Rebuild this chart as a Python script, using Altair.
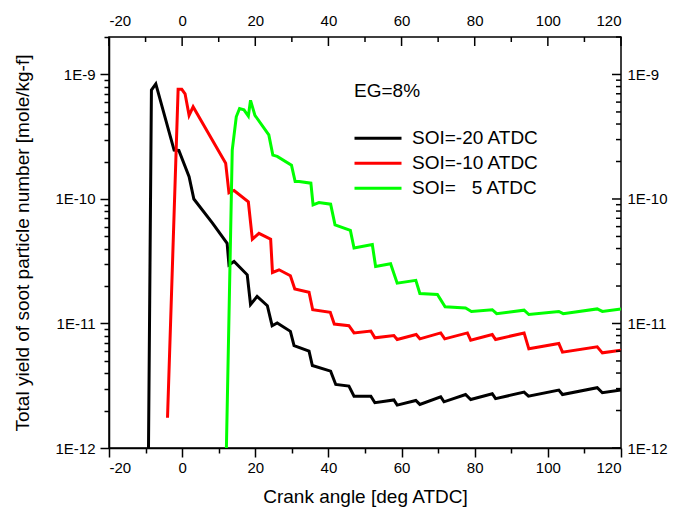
import altair as alt
import pandas as pd

# ---- data ----
black_x = [-9.2, -8.4, -7.2, -2.2, -0.9, 1.9, 3.2, 8.3, 12.3, 12.8, 14.2, 17.8, 18.7, 20.5, 23.3, 24.6,
           26.0, 29.6, 30.6, 34.7, 35.6, 40.6, 42.0, 45.6, 47.0, 51.6, 52.7, 57.9, 58.8, 63.9, 65.0,
           70.7, 71.6, 77.5, 78.9, 84.8, 85.7, 93.5, 94.7, 103.0, 104.0, 113.5, 114.9, 120.0]
black_y = [1.0e-12, 7.5e-10, 8.4e-10, 2.47e-10, 2.45e-10, 1.51e-10, 1.0e-10, 6.4e-11, 4.4e-11, 2.96e-11,
           3.15e-11, 2.46e-11, 1.42e-11, 1.65e-11, 1.39e-11, 9.6e-12, 1.01e-11, 8.65e-12, 6.65e-12,
           6.0e-12, 4.6e-12, 4.14e-12, 3.24e-12, 3.14e-12, 2.61e-12, 2.61e-12, 2.31e-12, 2.43e-12,
           2.21e-12, 2.41e-12, 2.24e-12, 2.58e-12, 2.35e-12, 2.69e-12, 2.45e-12, 2.73e-12, 2.49e-12,
           2.81e-12, 2.61e-12, 2.92e-12, 2.69e-12, 3.05e-12, 2.78e-12, 2.92e-12]

red_x = [-4.0, -1.1, -0.1, 0.8, 1.9, 3.0, 11.9, 12.8, 14.2, 18.1, 19.2, 21.0, 24.2, 24.7, 26.5, 29.6,
         30.8, 34.7, 35.7, 40.5, 41.6, 45.6, 47.0, 51.6, 52.7, 57.9, 58.8, 64.0, 65.0, 70.7, 71.8,
         78.0, 78.9, 84.8, 85.7, 93.5, 94.8, 103.0, 104.0, 113.5, 114.9, 120.0]
red_y = [1.75e-12, 7.6e-10, 7.6e-10, 7.0e-10, 4.7e-10, 5.5e-10, 1.94e-10, 1.12e-10, 1.17e-10, 9.5e-11,
         4.76e-11, 5.3e-11, 4.76e-11, 2.57e-11, 2.7e-11, 2.42e-11, 1.89e-11, 1.78e-11, 1.29e-11,
         1.23e-11, 9.9e-12, 9.6e-12, 8.4e-12, 8.7e-12, 7.67e-12, 8.0e-12, 7.43e-12, 8.15e-12,
         7.53e-12, 8.4e-12, 7.53e-12, 8.4e-12, 7.34e-12, 8.15e-12, 7.43e-12, 8.4e-12, 6.26e-12,
         6.9e-12, 5.88e-12, 6.49e-12, 5.81e-12, 6.1e-12]

green_x = [12.1, 13.7, 14.8, 15.7, 16.9, 18.1, 18.7, 19.9, 23.7, 24.8, 26.0, 29.9, 30.9, 32.0, 35.2,
           35.8, 37.4, 40.6, 41.8, 46.0, 47.0, 52.0, 52.9, 57.0, 58.8, 63.9, 65.0, 69.8, 71.9, 77.5,
           79.1, 84.8, 86.0, 93.5, 94.8, 103.0, 104.2, 113.5, 114.9, 120.0]
green_y = [1.0e-12, 2.47e-10, 4.57e-10, 5.33e-10, 5.2e-10, 4.63e-10, 6.2e-10, 4.7e-10, 3.27e-10,
           2.25e-10, 2.2e-10, 1.87e-10, 1.38e-10, 1.38e-10, 1.34e-10, 8.97e-11, 9.35e-11, 9.08e-11,
           6.2e-11, 5.6e-11, 4.04e-11, 4.3e-11, 2.87e-11, 3.02e-11, 2.11e-11, 2.22e-11, 1.74e-11,
           1.71e-11, 1.36e-11, 1.33e-11, 1.25e-11, 1.29e-11, 1.2e-11, 1.28e-11, 1.18e-11, 1.25e-11,
           1.2e-11, 1.31e-11, 1.25e-11, 1.31e-11]

series_names = ["SOI=-20 ATDC", "SOI=-10 ATDC", "SOI=\u00a0\u00a0\u00a05 ATDC"]
series_colors = ["#000000", "#ff0000", "#00ff00"]

x_major = [-20, 0, 20, 40, 60, 80, 100, 120]
x_minor = [-10, 10, 30, 50, 70, 90, 110]
y_major = [1e-12, 1e-11, 1e-10, 1e-9]
y_minor = [m * d for d in [1e-12, 1e-11, 1e-10] for m in range(2, 10)] + [2e-9]

annot_x = [47]
annot_y = [7.3e-10]
annot_t = ["EG=8%"]

# ---- tables ----
rows = []
for name, xs_, ys_ in zip(series_names, [black_x, red_x, green_x], [black_y, red_y, green_y]):
    for i, (a, b) in enumerate(zip(xs_, ys_)):
        rows.append({"series": name, "x": a, "y": b, "i": i})
df = pd.DataFrame(rows)

W, H = 512, 411
FONT = "Liberation Sans"
LFS = 15
xscale = alt.Scale(domain=[-20, 120], nice=False, zero=False)
yscale = alt.Scale(type="log", domain=[1e-12, 2e-9], nice=False)

minor_y_test = "abs(log(datum.value)/LN10 - round(log(datum.value)/LN10)) > 0.001"
minor_x_test = "datum.value % 20 != 0"

bottom_axis = alt.Axis(orient="bottom", values=x_major + x_minor,
                       labelExpr="datum.value % 20 == 0 ? '' + datum.value : ''",
                       tickSize={"condition": {"test": minor_x_test, "value": 5}, "value": 9},
                       labelPadding=3, labelFontSize=LFS, labelFont=FONT,
                       title="Crank angle [deg ATDC]", titlePadding=12,
                       titleFontSize=19, titleFont=FONT)
left_axis = alt.Axis(orient="left", values=y_major + y_minor,
                     labelExpr=f"{minor_y_test} ? '' : '1E' + round(log(datum.value)/LN10)",
                     tickSize={"condition": {"test": minor_y_test, "value": 5}, "value": 9},
                     labelPadding=5, labelFontSize=LFS, labelFont=FONT,
                     title="Total yield of soot particle number [mole/kg-f]",
                     titlePadding=22, titleFontSize=19, titleFont=FONT)

lines = alt.Chart(df).mark_line(strokeWidth=3, clip=True).encode(
    x=alt.X("x:Q", scale=xscale, axis=bottom_axis),
    y=alt.Y("y:Q", scale=yscale, axis=left_axis),
    color=alt.Color("series:N",
                    scale=alt.Scale(domain=series_names, range=series_colors),
                    legend=alt.Legend(title=None, orient="none", legendX=244, legendY=89,
                                      symbolType="stroke", symbolSize=2209, symbolStrokeWidth=3,
                                      labelFontSize=19, labelFont=FONT, labelColor="black",
                                      clipHeight=24.5, rowPadding=0, padding=0, labelOffset=9,
                                      labelLimit=400)),
    order="i:Q",
)

top_major = alt.Chart(pd.DataFrame({"v": x_major})).mark_rule(color="black", strokeWidth=1.5).encode(
    x=alt.X("v:Q", scale=xscale,
            axis=alt.Axis(orient="top", values=x_major, ticks=False, tickSize=0, domain=False,
                          labelPadding=9, title=None, labelFontSize=LFS, labelFont=FONT,
                          labelExpr="'' + datum.value")),
    y=alt.value(0), y2=alt.value(9))
top_minor = alt.Chart(pd.DataFrame({"v": x_minor})).mark_rule(color="black", strokeWidth=1.5).encode(
    x=alt.X("v:Q", scale=xscale, axis=None), y=alt.value(0), y2=alt.value(5))

right_major = alt.Chart(pd.DataFrame({"v": y_major})).mark_rule(color="black", strokeWidth=1.5).encode(
    y=alt.Y("v:Q", scale=yscale,
            axis=alt.Axis(orient="right", values=y_major, ticks=False, tickSize=0, domain=False,
                          labelPadding=6, title=None, labelFontSize=LFS, labelFont=FONT,
                          labelExpr="'1E' + round(log(datum.value)/LN10)")),
    x=alt.value(W), x2=alt.value(W - 9))
right_minor = alt.Chart(pd.DataFrame({"v": y_minor})).mark_rule(color="black", strokeWidth=1.5).encode(
    y=alt.Y("v:Q", scale=yscale, axis=None), x=alt.value(W), x2=alt.value(W - 5))

annot = alt.Chart(pd.DataFrame({"x": annot_x, "y": annot_y, "t": annot_t})).mark_text(
    align="left", baseline="middle", fontSize=19, font=FONT, color="black").encode(
    x=alt.X("x:Q", scale=xscale, axis=None),
    y=alt.Y("y:Q", scale=yscale, axis=None),
    text="t:N")

chart = alt.layer(lines, top_major, top_minor, right_major, right_minor, annot).resolve_axis(
    x="independent", y="independent"
).properties(
    width=W, height=H,
    autosize=alt.AutoSizeParams(type="none"),
    padding={"left": 101, "top": 29, "right": 47, "bottom": 60},
    background="white",
).configure_view(
    stroke="black", strokeWidth=1.5
).configure_axis(
    domainColor="black", domainWidth=1.5, tickColor="black", tickWidth=1.5,
    labelColor="black", titleColor="black", labelFont=FONT, titleFont=FONT,
    labelFontSize=LFS, titleFontSize=19, titleFontWeight="normal", grid=False,
)

chart.save("out.html", embed_options={"renderer": "svg", "actions": False})
